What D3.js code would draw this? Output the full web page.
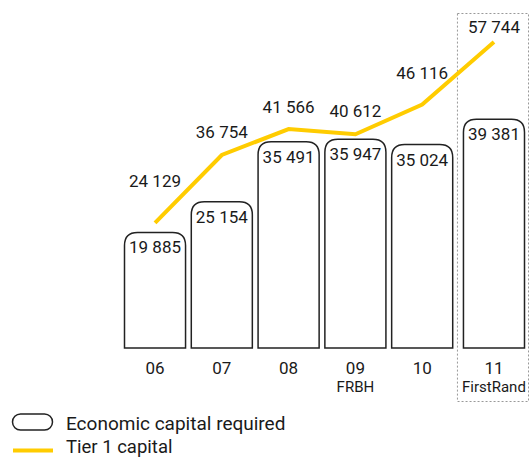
<!DOCTYPE html>
<html><head><meta charset="utf-8">
<script src="https://cdn.jsdelivr.net/npm/d3@7"></script>
<style>
html,body{margin:0;padding:0;background:#fff;}
svg{display:block;font-family:Roboto,"DejaVu Sans",sans-serif;}
</style></head>
<body>
<svg id="c" width="530" height="458"></svg>
<script>
// ---- data ----
const categories = ["06","07","08","09","10","11"];
const subLabels = ["","","","FRBH","","FirstRand"];
const economicCapital = [19885, 25154, 35491, 35947, 35024, 39381];
const tier1Capital = [24129, 36754, 41566, 40612, 46116, 57744];
const legendLabels = ["Economic capital required", "Tier 1 capital"];

// ---- layout ----
const labelLift = [36, 17, 16, 17, 26, 9];
const lastGroupShift = 5;
const fmt = v => d3.format(",")(v).replace(/,/g, " ");

const svg = d3.select("#c");
const x = d3.scaleBand().domain(categories).range([124, 520]).paddingInner(0.071).paddingOuter(0);
const yBar = d3.scaleLinear().domain([0, 40000]).range([348, 115.6]);
const yLine = d3.scaleLinear().domain([0, 60000]).range([352.9, 29.8]);
const bx = (d, i) => x(d) + (i === categories.length - 1 ? lastGroupShift : 0);
const bw = x.bandwidth();
const cx = (d, i) => bx(d, i) + bw / 2;

// dashed highlight box
const li = categories.length - 1;
svg.append("rect")
  .attr("x", bx(categories[li], li) - 5.5).attr("y", 13.5)
  .attr("width", bw + 9).attr("height", 388)
  .attr("fill", "none").attr("stroke", "#999").attr("stroke-width", 1)
  .attr("stroke-dasharray", "2,2");

function topRounded(x0, y0, w, h, r) {
  return `M${x0},${y0 + h} V${y0 + r} Q${x0},${y0} ${x0 + r},${y0} H${x0 + w - r} Q${x0 + w},${y0} ${x0 + w},${y0 + r} V${y0 + h} Z`;
}

const g = svg.append("g");
categories.forEach((c, i) => {
  const v = economicCapital[i];
  const x0 = bx(c, i), y0 = yBar(v), h = yBar(0) - yBar(v);
  g.append("path").attr("d", topRounded(x0 + 0.5, y0, bw - 1, h, 13))
    .attr("fill", "#fff").attr("stroke", "#222").attr("stroke-width", 1.5);
  g.append("text").attr("x", x0 + bw / 2).attr("y", y0 + 21)
    .attr("text-anchor", "middle").attr("font-size", 17).attr("fill", "#1a1a1a")
    .text(fmt(v));
  g.append("text").attr("x", x0 + bw / 2).attr("y", 373.5)
    .attr("text-anchor", "middle").attr("font-size", 17).attr("fill", "#1a1a1a")
    .text(c);
  if (subLabels[i]) {
    g.append("text").attr("x", x0 + bw / 2).attr("y", 392)
      .attr("text-anchor", "middle").attr("font-size", 15).attr("fill", "#1a1a1a")
      .text(subLabels[i]);
  }
});

// line
const line = d3.line().x((d, i) => cx(categories[i], i)).y(d => yLine(d));
svg.append("path").datum(tier1Capital).attr("d", line)
  .attr("fill", "none").attr("stroke", "#FFCC00").attr("stroke-width", 4)
  .attr("stroke-linejoin", "miter");
tier1Capital.forEach((v, i) => {
  svg.append("text").attr("x", cx(categories[i], i)).attr("y", yLine(v) - labelLift[i])
    .attr("text-anchor", "middle").attr("font-size", 17).attr("fill", "#1a1a1a")
    .text(fmt(v));
});

// legend
svg.append("rect").attr("x", 12.5).attr("y", 414).attr("width", 40).attr("height", 16)
  .attr("rx", 8).attr("fill", "#fff").attr("stroke", "#222").attr("stroke-width", 1.5);
svg.append("text").attr("x", 66).attr("y", 429.5).attr("font-size", 19).attr("fill", "#1a1a1a").text(legendLabels[0]);
svg.append("line").attr("x1", 13).attr("x2", 53).attr("y1", 450.5).attr("y2", 450.5)
  .attr("stroke", "#FFCC00").attr("stroke-width", 4);
svg.append("text").attr("x", 66).attr("y", 453).attr("font-size", 18.5).attr("fill", "#1a1a1a").text(legendLabels[1]);
</script>
</body></html>
